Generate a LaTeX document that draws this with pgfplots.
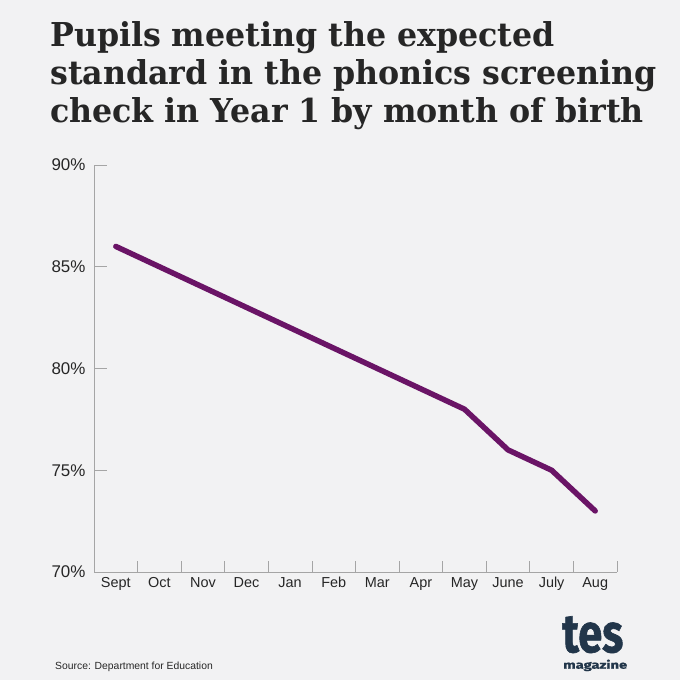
\documentclass[border=0pt]{standalone}
\usepackage{pgfplots}
\pgfplotsset{compat=1.18}
\usepackage{fontspec}
\setmainfont{Liberation Sans}
\newfontfamily\titlefont{DejaVu Serif Condensed}[FakeStretch=1.07]
\newfontfamily\logofont{Fira Sans}[BoldFeatures={FakeBold=1.2}]
\definecolor{bg}{HTML}{F2F2F3}
\definecolor{linecol}{HTML}{6A1466}
\definecolor{axcol}{HTML}{A5A5A5}
\definecolor{txt}{HTML}{262626}
\definecolor{logo}{HTML}{22364A}
\begin{document}
\begin{tikzpicture}
\fill[bg] (0,0) rectangle (680bp,680bp);
\useasboundingbox (0,0) rectangle (680bp,680bp);
\node[anchor=base west, inner sep=0pt, text=txt] at (50bp,633bp) {\titlefont\bfseries\fontsize{33}{38}\selectfont Pupils meeting the expected};
\node[anchor=base west, inner sep=0pt, text=txt] at (50bp,595bp) {\titlefont\bfseries\fontsize{33}{38}\selectfont standard in the phonics screening};
\node[anchor=base west, inner sep=0pt, text=txt] at (50bp,557bp) {\titlefont\bfseries\fontsize{33}{38}\selectfont check in Year 1 by month of birth};
\begin{axis}[
  at={(94bp,108bp)}, anchor=south west,
  scale only axis, width=523bp, height=407bp,
  xmin=0.5, xmax=12.5, ymin=70, ymax=90,
  axis x line=bottom, axis y line=left,
  axis line style={-, axcol, line width=0.8pt},
  tick align=inside,
  xtick={1,...,12},
  xticklabels={Sept,Oct,Nov,Dec,Jan,Feb,Mar,Apr,May,June,July,Aug},
  major x tick style={draw=none},
  minor xtick={1.5,2.5,...,12.5},
  minor x tick style={axcol, line width=0.8pt},
  minor tick length=11bp,
  ytick={70,75,80,85,90},
  yticklabels={70\%,75\%,80\%,85\%,90\%},
  major y tick style={axcol, line width=0.8pt},
  major tick length=13bp,
  /pgf/number format/assume math mode=true,
  xticklabel style={font=\fontsize{14.5}{14.5}\selectfont, text=txt, anchor=north, yshift=-2bp},
  yticklabel style={font=\fontsize{17}{17}\selectfont, text=txt, anchor=east, xshift=-5bp},
  clip=false,
]
\addplot[linecol, line width=5.5pt, line cap=round, line join=round] coordinates {
(1,86) (2,85) (3,84) (4,83) (5,82) (6,81) (7,80) (8,79) (9,78) (10,76) (11,75) (12,73)
};
\end{axis}
\node[anchor=base west, inner sep=0pt, text=txt] at (55bp,11bp) {\fontsize{10.4}{10.4}\selectfont Source: Department for Education};
\node[anchor=north west, inner sep=0pt, text=logo, align=left, font=\fontsize{10}{16.5bp}\selectfont] at (562bp,64bp)
  {\resizebox{61bp}{36bp}{\logofont\bfseries tes}\\\hspace*{1bp}\resizebox{64bp}{9bp}{\logofont\bfseries magazine}};
\end{tikzpicture}
\end{document}
